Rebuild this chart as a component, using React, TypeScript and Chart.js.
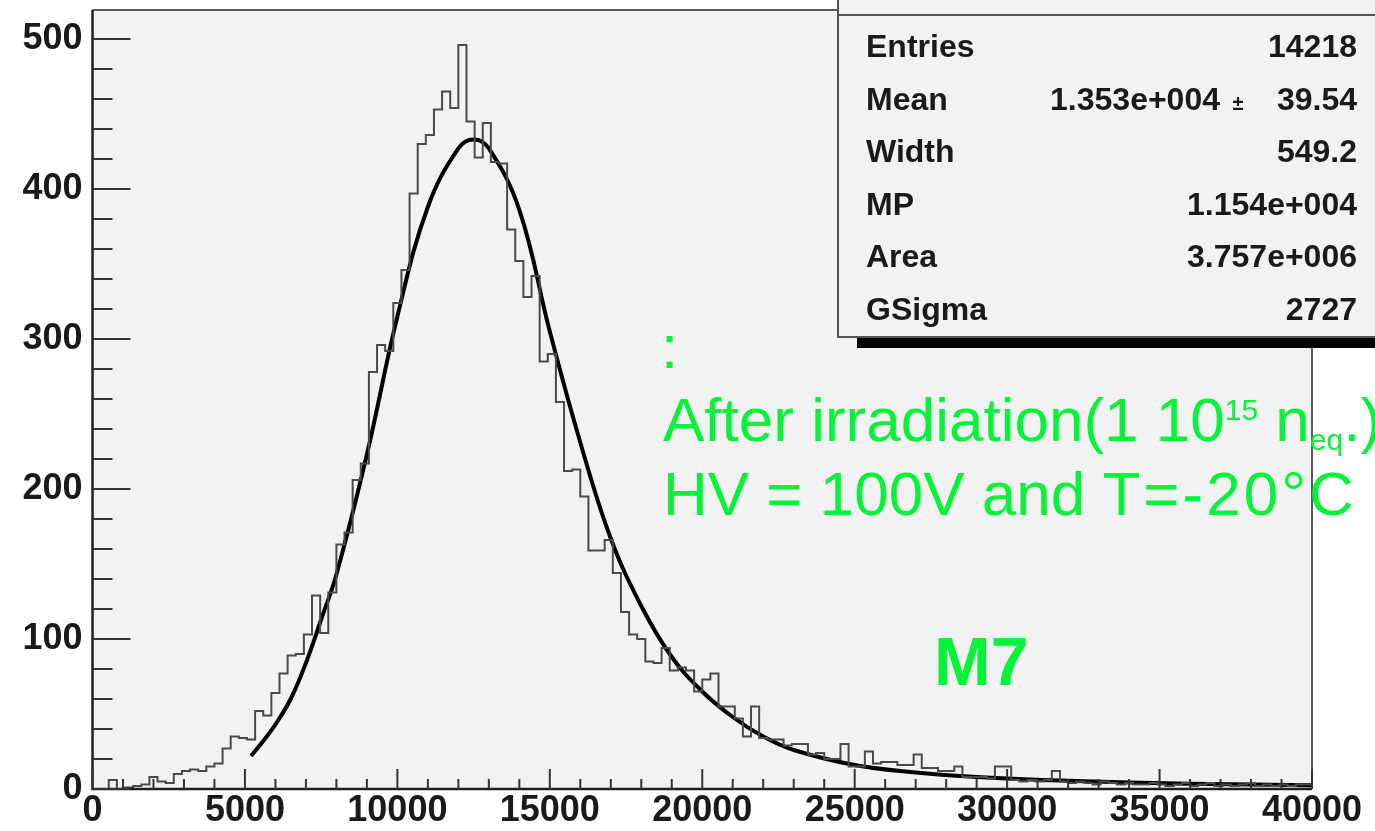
import React, { useEffect, useRef } from 'react';
import { Chart, registerables } from 'chart.js';

Chart.register(...registerables);

const FONT = "'Liberation Sans', Arial, Helvetica, sans-serif";

// axis ranges and tick labels
const X_MIN = 0;
const X_MAX = 40000;
const Y_MIN = 0;
const Y_MAX = 519.3;
const xTickValues = [0, 5000, 10000, 15000, 20000, 25000, 30000, 35000, 40000];
const yTickValues = [0, 100, 200, 300, 400, 500];
const X_MINOR_STEP = 1000;
const Y_MINOR_STEP = 20;

// histogram contents (150 bins between X_MIN and X_MAX)
const counts = [
  0, 0, 0, 6, 0, 1, 2, 3, 8, 5,
  4, 10, 12, 13, 12, 15, 17, 27, 35, 34,
  33, 52, 49, 64, 77, 89, 90, 103, 129, 104,
  131, 163, 171, 206, 217, 278, 296, 292, 324, 346,
  397, 430, 436, 453, 465, 454, 496, 445, 421, 444,
  418, 417, 373, 352, 328, 342, 285, 290, 258, 212,
  213, 195, 159, 159, 166, 144, 118, 103, 100, 85,
  84, 94, 79, 81, 79, 65, 73, 77, 55, 55,
  47, 35, 55, 34, 33, 33, 29, 30, 30, 23,
  24, 20, 20, 30, 15, 15, 25, 17, 18, 18,
  16, 16, 23, 14, 14, 12, 12, 15, 8, 8,
  8, 7, 15, 15, 6, 5, 6, 5, 6, 12,
  5, 4, 5, 4, 3, 5, 4, 3, 4, 3,
  3, 4, 3, 2, 3, 4, 2, 3, 4, 2,
  3, 2, 3, 4, 2, 3, 2, 3, 2, 3,
];

// fitted Landau-Gauss curve
const fitX = [5200, 5600, 6000, 6500, 7000, 7500, 8000, 9000, 10000, 11000, 12000, 12500, 13000, 14000, 15000, 16000, 17000, 18000, 19000, 20000, 21000, 22000, 23000, 25000, 27000, 29000, 32000, 36000, 40000];
const fitY = [22, 32, 43, 60, 84, 113, 143, 223, 315, 388, 427, 433, 427, 386, 305, 231, 167, 122, 88, 65, 48, 35, 26, 16, 11, 8, 5.5, 3.5, 2.5];

// statistics box
const statsLabels = ['Entries', 'Mean', 'Width', 'MP', 'Area', 'GSigma'];
const statsValues = ['14218', '39.54', '549.2', '1.154e+004', '3.757e+006', '2727'];
const meanValue = '1.353e+004';
const meanSign = '\u00b1';

const GREEN = '#08f23a';

const rootPlugin = {
  id: 'rootStyle',
  beforeDatasetsDraw(chart: any) {
    const { ctx, chartArea: a } = chart;
    ctx.save();
    ctx.fillStyle = '#f2f2f2';
    ctx.fillRect(a.left, a.top, a.right - a.left, a.bottom - a.top);
    ctx.restore();
  },
  afterDatasetsDraw(chart: any) {
    const { ctx, chartArea: a, scales } = chart;
    const xs = scales.x;
    const ys = scales.y;
    ctx.save();
    // frame
    ctx.strokeStyle = '#5a5a5a';
    ctx.lineWidth = 2;
    ctx.beginPath();
    ctx.moveTo(a.left, a.top);
    ctx.lineTo(a.right, a.top);
    ctx.lineTo(a.right, a.bottom);
    ctx.stroke();
    // axes
    ctx.strokeStyle = '#1e1e1e';
    ctx.lineWidth = 2.5;
    ctx.beginPath();
    ctx.moveTo(a.left, a.top);
    ctx.lineTo(a.left, a.bottom);
    ctx.lineTo(a.right, a.bottom);
    ctx.stroke();
    // y ticks
    ctx.strokeStyle = '#333';
    ctx.lineWidth = 2;
    ctx.beginPath();
    for (let v = Y_MIN; v <= Y_MAX; v += Y_MINOR_STEP) {
      const y = ys.getPixelForValue(v);
      const len = v % 100 === 0 ? 38 : 20;
      ctx.moveTo(a.left, y);
      ctx.lineTo(a.left + len, y);
    }
    // x ticks
    for (let v = X_MIN; v <= X_MAX; v += X_MINOR_STEP) {
      const x = xs.getPixelForValue(v);
      const len = v % 5000 === 0 ? 20 : 10;
      ctx.moveTo(x, a.bottom);
      ctx.lineTo(x, a.bottom - len);
    }
    ctx.stroke();
    ctx.restore();
  },
  afterDraw(chart: any) {
    const { ctx } = chart;
    ctx.save();
    // stats box shadow
    ctx.fillStyle = '#000';
    ctx.fillRect(857, 338, 1375 - 857, 10);
    // stats box
    ctx.fillStyle = '#f2f2f2';
    ctx.fillRect(838, -4, 600, 341);
    ctx.strokeStyle = '#555';
    ctx.lineWidth = 2;
    ctx.strokeRect(838, -4, 600, 341);
    ctx.beginPath();
    ctx.moveTo(838, 15);
    ctx.lineTo(1375, 15);
    ctx.stroke();
    // stats text
    ctx.fillStyle = '#1a1a1a';
    ctx.font = `bold 32px ${FONT}`;
    ctx.textBaseline = 'alphabetic';
    statsLabels.forEach((lab, i) => {
      const y = 57 + i * 52.6;
      ctx.textAlign = 'left';
      ctx.fillText(lab, 866, y);
      ctx.textAlign = 'right';
      ctx.fillText(statsValues[i], 1357, y);
    });
    const meanY = 57 + 52.6;
    ctx.textAlign = 'right';
    ctx.fillText(meanValue, 1220, meanY);
    ctx.font = `bold 20px ${FONT}`;
    ctx.textAlign = 'center';
    ctx.fillText(meanSign, 1238, meanY);

    // green annotations
    ctx.fillStyle = GREEN;
    ctx.textAlign = 'left';
    const big = `62px ${FONT}`;
    const small = `30px ${FONT}`;
    ctx.font = big;
    ctx.fillText(':', 661, 368);
    let x = 663;
    const seg = (text: string, font: string, y: number) => {
      ctx.font = font;
      ctx.fillText(text, x, y);
      x += ctx.measureText(text).width;
    };
    seg('After irradiation(1 10', big, 441);
    seg('15', small, 420);
    seg(' n', big, 441);
    seg('eq', small, 450);
    seg('.)', big, 441);
    x = 663;
    seg('HV = 100V and ', big, 515);
    (ctx as any).letterSpacing = '3px';
    seg('T=-20\u00b0C', big, 515);
    (ctx as any).letterSpacing = '0px';
    ctx.font = `bold 68px ${FONT}`;
    ctx.fillText('M7', 934, 685);
    ctx.restore();
  },
};

export default function App() {
  const canvasRef = useRef<HTMLCanvasElement | null>(null);

  useEffect(() => {
    if (!canvasRef.current) return;
    const binWidth = (X_MAX - X_MIN) / counts.length;
    const histPoints = counts.map((c, i) => ({ x: X_MIN + i * binWidth, y: c }));
    histPoints.push({ x: X_MAX, y: counts[counts.length - 1] });
    const fitPoints = fitX.map((v, i) => ({ x: v, y: fitY[i] }));

    const tickFont = { family: FONT, size: 36, weight: 'bold' as const, lineHeight: 1 };

    const chart = new Chart(canvasRef.current, {
      type: 'line',
      data: {
        datasets: [
          {
            label: 'hist',
            data: histPoints,
            borderColor: '#4a4a4a',
            borderWidth: 2,
            stepped: 'after',
            pointRadius: 0,
            fill: false,
          },
          {
            label: 'fit',
            data: fitPoints,
            borderColor: '#000',
            borderWidth: 4,
            tension: 0.4,
            pointRadius: 0,
            fill: false,
          },
        ],
      },
      options: {
        responsive: false,
        animation: false,
        devicePixelRatio: 1,
        parsing: false,
        layout: { padding: { left: 0, top: 10, right: 63, bottom: 0 } },
        plugins: { legend: { display: false }, tooltip: { enabled: false } },
        scales: {
          x: {
            type: 'linear',
            min: X_MIN,
            max: X_MAX,
            grid: { display: false, drawTicks: false },
            border: { display: false },
            ticks: {
              font: tickFont,
              color: '#1a1a1a',
              padding: 4.5,
              maxRotation: 0,
              autoSkip: false,
              callback: (v: any) => String(v),
            },
            afterBuildTicks: (s: any) => {
              s.ticks = xTickValues.map((v) => ({ value: v }));
            },
            afterFit: (s: any) => {
              s.height = 42;
              s.paddingLeft = 0;
              s.paddingRight = 0;
            },
          },
          y: {
            type: 'linear',
            min: Y_MIN,
            max: Y_MAX,
            grid: { display: false, drawTicks: false },
            border: { display: false },
            ticks: {
              font: tickFont,
              color: '#1a1a1a',
              padding: 10,
              autoSkip: false,
              callback: (v: any) => String(v),
            },
            afterBuildTicks: (s: any) => {
              s.ticks = yTickValues.map((v) => ({ value: v }));
            },
            afterFit: (s: any) => {
              s.width = 92.5;
              s.paddingTop = 0;
              s.paddingBottom = 0;
            },
          },
        },
      } as any,
      plugins: [rootPlugin],
    });
    return () => chart.destroy();
  }, []);

  return (
    <div style={{ position: 'fixed', left: 0, top: 0, width: 1375, height: 831, background: '#fff', overflow: 'hidden' }}>
      <canvas ref={canvasRef} width={1375} height={831} style={{ width: 1375, height: 831, display: 'block' }} />
    </div>
  );
}
